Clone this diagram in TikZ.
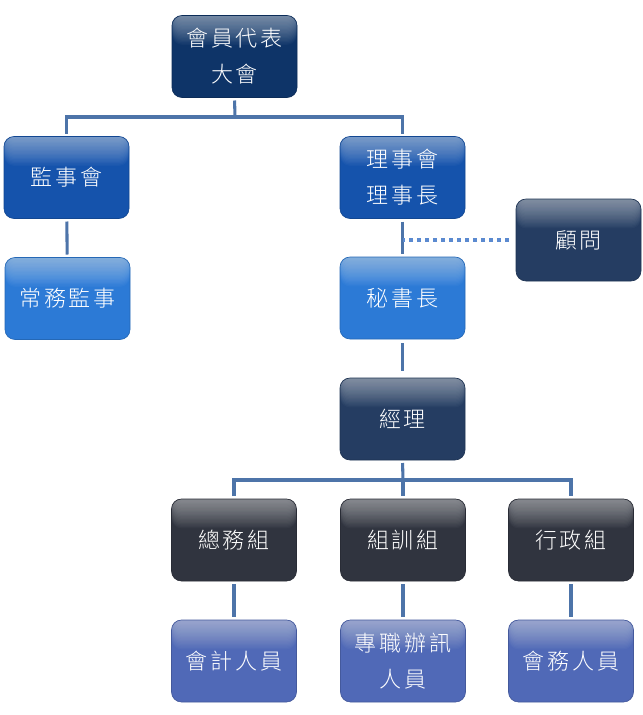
\documentclass[tikz,border=0pt]{standalone}
\usepackage{fontspec}
\newfontfamily\cjk[LetterSpace=13]{Noto Sans CJK TC Light}
\definecolor{cNavy}{HTML}{0E3468}
\definecolor{cBlue}{HTML}{1553AC}
\definecolor{cLight}{HTML}{2C7AD6}
\definecolor{cSlate}{HTML}{253D62}
\definecolor{cDark}{HTML}{30343F}
\definecolor{cPeri}{HTML}{5069B7}
\definecolor{cLine}{HTML}{4D74A9}
\definecolor{cDot}{HTML}{5B8AD0}
\tikzset{
  orgbox/.style={rounded corners=7.5pt, minimum width=93.75pt, minimum height=61.5pt,
    inner sep=0pt, fill=#1, draw=#1!85!black, line width=0.5pt,
    text=white, font=\cjk\fontsize{16.5pt}{27pt}\selectfont, align=center,
    path picture={\foreach \i in {1,...,22}{\fill[white,opacity=0.026]
      (path picture bounding box.north west) rectangle ([yshift=-\i pt]path picture bounding box.north east);}}},
  conn/.style={draw=cLine, line width=2.3pt},
  dotline/.style={draw=cDot, line width=3pt, dash pattern=on 3pt off 3pt}
}
\begin{document}
\begin{tikzpicture}[x=0.75pt,y=-0.75pt]
\useasboundingbox (0,0) rectangle (643,715);
\fill[white] (0,0) rectangle (643,715);
\coordinate (b1) at (235,117);
\coordinate (b2) at (403,480);
\node[orgbox=cNavy] (top) at (234.5,56.5) {會員代表\\大會};
\node[orgbox=cBlue] (jianshi) at (66.5,177.5) {監事會};
\node[orgbox=cBlue] (lishi) at (402.5,177.5) {理事會\\理事長};
\node[orgbox=cLight] (changwu) at (67.5,298.5) {常務監事};
\node[orgbox=cLight] (mishu) at (402.5,298) {秘書長};
\node[orgbox=cSlate] (guwen) at (578.5,240) {顧問};
\node[orgbox=cSlate] (jingli) at (402.5,419) {經理};
\node[orgbox=cDark] (zongwu) at (234,540) {總務組};
\node[orgbox=cDark] (zuxun) at (403,540) {組訓組};
\node[orgbox=cDark] (xingzheng) at (571,540) {行政組};
\node[orgbox=cPeri] (kuaiji) at (234,661) {會計人員};
\node[orgbox=cPeri] (zhuanzhi) at (403,661) {專職辦訊\\人員};
\node[orgbox=cPeri] (huiwu) at (571,661) {會務人員};
\draw[conn,shorten <=2pt] (top.south) -- (b1);
\draw[conn,shorten <=2pt,shorten >=2pt] (jianshi.north) |- (b1) -| (lishi.north);
\draw[conn,shorten <=2pt,shorten >=2pt] (jianshi) -- (changwu);
\draw[conn,shorten <=2pt,shorten >=2pt] (lishi) -- (mishu);
\draw[dotline,shorten <=5pt] (guwen.west) -- (guwen.west -| lishi.south);
\draw[conn,shorten <=3pt,shorten >=5pt] (mishu) -- (jingli);
\draw[conn,shorten <=2pt] (jingli.south) -- (b2);
\draw[conn,shorten <=2pt,shorten >=2pt] (zongwu.north) |- (b2) -| (xingzheng.north);
\draw[conn,shorten >=2pt] (b2) -- (zuxun.north);
\draw[conn,shorten <=2pt,shorten >=2pt] (zongwu) -- (kuaiji);
\draw[conn,shorten <=2pt,shorten >=2pt] (zuxun) -- (zhuanzhi);
\draw[conn,shorten <=2pt,shorten >=2pt] (xingzheng) -- (huiwu);
\end{tikzpicture}
\end{document}
